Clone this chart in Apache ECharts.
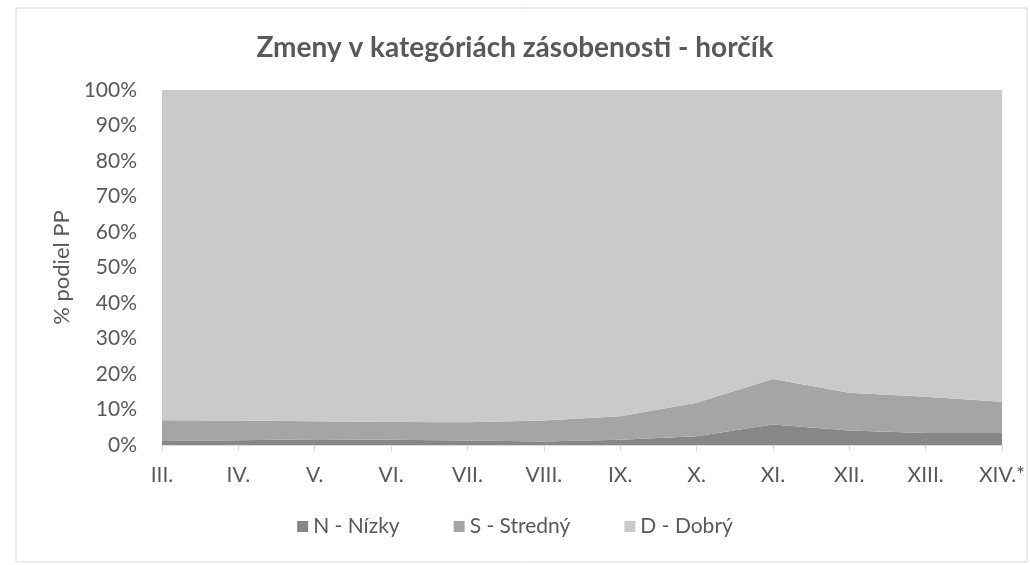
<!DOCTYPE html>
<html>
<head>
<meta charset="utf-8">
<script src="https://cdn.jsdelivr.net/npm/echarts@6/dist/echarts.min.js"></script>
<style>
  html, body { margin: 0; padding: 0; background: #fff; }
  #chart { width: 1030px; height: 565px; }
</style>
</head>
<body>
<div id="chart"></div>
<script>
// obdobia (cykly)
const categories = ["III.", "IV.", "V.", "VI.", "VII.", "VIII.", "IX.", "X.", "XI.", "XII.", "XIII.", "XIV.*"];
// podiel PP v %
const nizky = [1.1, 1.35, 1.6, 1.5, 1.25, 1.0, 1.45, 2.5, 5.8, 4.1, 3.4, 3.4];
const stredny = [5.9, 5.55, 5.1, 5.0, 5.15, 5.9, 6.65, 9.4, 12.8, 10.6, 10.2, 8.8];
const dobry = [93.0, 93.1, 93.3, 93.5, 93.6, 93.1, 91.9, 88.1, 81.4, 85.3, 86.4, 87.8];
const yTicks = [0, 10, 20, 30, 40, 50, 60, 70, 80, 90, 100];

const font = "Lato, 'Open Sans', sans-serif";
const chart = echarts.init(document.getElementById("chart"));

function areaSeries(name, data, color) {
  return {
    name: name,
    type: "line",
    stack: "total",
    data: data,
    symbol: "none",
    lineStyle: { width: 0 },
    areaStyle: { color: color, opacity: 1 },
    itemStyle: { color: color },
  };
}

chart.setOption({
  animation: false,
  backgroundColor: "#fff",
  graphic: [
    {
      type: "rect",
      shape: { x: 16, y: 8, width: 1011, height: 554 },
      style: { fill: "none", stroke: "#d9d9d9", lineWidth: 1 },
      silent: true,
    },
  ],
  title: {
    text: "Zmeny v kategóriách zásobenosti - horčík",
    left: "center",
    top: 29,
    textStyle: { fontFamily: font, fontSize: 28, fontWeight: "bold", color: "#595959" },
  },
  legend: {
    top: 511,
    left: "center",
    itemWidth: 11,
    itemHeight: 11,
    itemGap: 54,
    icon: "rect",
    textStyle: { fontFamily: font, fontSize: 21, color: "#595959" },
    data: ["N - Nízky", "S - Stredný", "D - Dobrý"],
  },
  grid: { left: 162, right: 28, top: 90, bottom: 120 },
  xAxis: {
    type: "category",
    boundaryGap: false,
    data: categories,
    axisLine: { lineStyle: { color: "#d9d9d9", width: 1 } },
    axisTick: { show: true, length: 6, lineStyle: { color: "#d9d9d9" } },
    axisLabel: { fontFamily: font, fontSize: 21, color: "#595959", margin: 20 },
  },
  yAxis: {
    type: "value",
    min: yTicks[0],
    max: yTicks[yTicks.length - 1],
    interval: 10,
    name: "% podiel PP",
    nameLocation: "middle",
    nameGap: 88,
    nameTextStyle: { fontFamily: font, fontSize: 22, color: "#595959" },
    axisLine: { show: false },
    axisTick: { show: false },
    splitLine: { show: false },
    axisLabel: { fontFamily: font, fontSize: 21, color: "#595959", margin: 25, formatter: "{value}%" },
  },
  series: [
    areaSeries("N - Nízky", nizky, "#878787"),
    areaSeries("S - Stredný", stredny, "#a5a5a5"),
    areaSeries("D - Dobrý", dobry, "#cacaca"),
  ],
});
</script>
</body>
</html>
